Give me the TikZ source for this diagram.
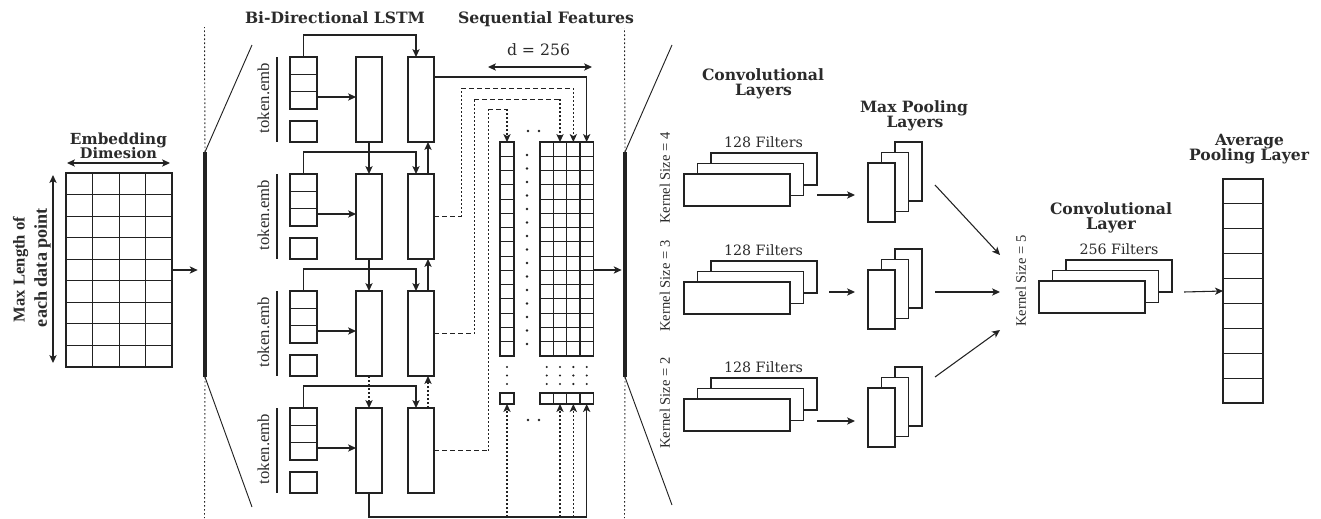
\documentclass[tikz,border=0pt]{standalone}
\usepackage{graphicx}
\usepackage{fontspec}
\setmainfont{DejaVu Serif}
\newfontfamily\tms{Liberation Serif}
\usetikzlibrary{arrows.meta,calc}
\definecolor{lc}{HTML}{222222}
\definecolor{tc}{HTML}{2b2b2b}
\newdimen\pxu \pxu=0.75pt
\newcommand\fw[2]{\resizebox{#1\pxu}{!}{#2}}
\newcommand\bx[5]{\node[blk,minimum width={(#4)*0.75pt},minimum height={(#5)*0.75pt}] (#1) at ({#2},{#3}) {};}
\begin{document}
\begin{tikzpicture}[x=0.75pt,y=-0.75pt,
  blk/.style={draw=lc,line width=0.9pt,fill=white,inner sep=0pt,outer sep=0pt,anchor=north west},
  gridl/.style={draw=lc,line width=0.7pt},
  tip/.tip={Stealth[length=6pt,width=5.5pt,inset=1.6pt]},
  arr/.style={draw=lc,line width=0.8pt,-tip},
  darr/.style={draw=lc,line width=0.8pt,tip-tip},
  dotl/.style={dash pattern=on 1.2pt off 1.8pt},
  dashl/.style={dash pattern=on 3.5pt off 2.5pt},
  thin/.style={draw=lc,line width=0.7pt},
  head/.style={font=\bfseries\fontsize{11}{12}\selectfont,text=tc,inner sep=0pt,anchor=base},
  lab/.style={font=\fontsize{10}{12}\selectfont,text=tc,inner sep=0pt,anchor=base},
  tlab/.style={font=\tms\fontsize{11.5}{12}\selectfont,text=tc,inner sep=0pt,rotate=90},
  klab/.style={font=\tms\fontsize{10.5}{12}\selectfont,text=tc,inner sep=0pt,rotate=90},
  mlab/.style={font=\tms\bfseries\fontsize{12}{14}\selectfont,text=tc,inner sep=0pt,rotate=90},
  bar/.style={fill=lc,inner sep=0pt,outer sep=0pt,anchor=north west,minimum width=3pt,minimum height=225*0.75pt},
  dot/.style={fill=lc}
]
\useasboundingbox (0,0) rectangle (1321,518);

% ---------- embedding ----------
\node[head] (hemb1) at (118.5,144) {\fw{97}{Embedding}};
\node[head] (hemb2) at (118.5,158) {\fw{77}{Dimesion}};
\node[mlab] (hmax1) at (20.5,269.5) {\fw{105}{Max Length of}};
\node[mlab] (hmax2) at (42.5,267.5) {\fw{119}{each data point}};
\bx{emb}{66}{173}{106}{194}
\foreach \i in {1,2,3} \draw[gridl] ($(emb.north west)+(26.5*\i,0)$) -- ($(emb.south west)+(26.5*\i,0)$);
\foreach \j in {1,...,8} \draw[gridl] ($(emb.north west)+(0,194/9*\j)$) -- ($(emb.north east)+(0,194/9*\j)$);
\coordinate (ea1) at (67,163); \coordinate (ea2) at (170,163);
\draw[darr] (ea1) -- (ea2);
\coordinate (ma1) at (53,175); \coordinate (ma2) at (53,363);
\draw[darr] (ma1) -- (ma2);

% ---------- bar 1 ----------
\node[bar] (bar1) at (203,152) {};
\draw[arr,shorten >=4pt] (emb.east) -- (emb.east -| bar1.west);
\coordinate (d1t) at (204.5,27); \coordinate (d1b) at (204.5,518);
\draw[thin,dotl] (bar1.north) -- (d1t);
\draw[thin,dotl] (bar1.south) -- (d1b);
\coordinate (g1t) at (252,45); \coordinate (g1b) at (252,507);
\draw[thin] (bar1.north) -- (g1t);
\draw[thin] (bar1.south) -- (g1b);

% ---------- LSTM ----------
\node[head] (hlstm) at (335,23) {\fw{180}{Bi-Directional LSTM}};
\foreach \r in {0,1,2,3} {
  \pgfmathsetmacro\t{57+117*\r}
  \node[tlab] (te\r) at ({263.5},{\t+41}) {\fw{70}{token.emb}};
  \draw[lc,line width=0.9pt] ({277},{\t}) -- ({277},{\t+85});
  \bx{tok\r}{290}{\t}{27}{52}
  \draw[gridl] ($(tok\r.north west)+(0,17.3)$) -- ($(tok\r.north east)+(0,17.3)$);
  \draw[gridl] ($(tok\r.north west)+(0,34.7)$) -- ($(tok\r.north east)+(0,34.7)$);
  \bx{sm\r}{290}{\t+64}{27}{21}
  \bx{f\r}{356}{\t}{26}{85}
  \bx{b\r}{408}{\t}{26}{85}
  \draw[arr] ($(tok\r.north east)+(0,40)$) -- ($(f\r.north west)+(0,40)$);
  \draw[arr] (tok\r.north) -- ++(0,-22) -| ($(b\r.north west)+(8,0)$);
}
\draw[arr] (f0.south) -- (f1.north);
\draw[arr] (f1.south) -- (f2.north);
\draw[arr,dotl] (f2.south) -- (f3.north);
\draw[arr] ($(b1.north east)+(-6,0)$) -- ($(b0.south east)+(-6,0)$);
\draw[arr] ($(b2.north east)+(-6,0)$) -- ($(b1.south east)+(-6,0)$);
\draw[arr,dotl] ($(b3.north east)+(-6,0)$) -- ($(b2.south east)+(-6,0)$);

% ---------- sequential features ----------
\node[head] (hseq) at (546,23) {\fw{176}{Sequential Features}};
\node[lab] (dlab) at (538.5,55) {\fw{63}{d = 256}};
\coordinate (da1) at (488,67); \coordinate (da2) at (592,67);
\draw[darr] (da1) -- (da2);

\bx{sc}{500}{142}{14}{214}
\foreach \j in {1,...,14} \draw[gridl] ($(sc.north west)+(0,214/15*\j)$) -- ($(sc.north east)+(0,214/15*\j)$);
\foreach \i in {1,...,4} {\bx{mc\i}{540+13.333*(\i-1)}{142}{13.333}{214}}
\foreach \j in {1,...,14} \draw[gridl] ($(mc1.north west)+(0,214/15*\j)$) -- ($(mc4.north east)+(0,214/15*\j)$);
\bx{ssb}{500}{393}{14}{11}
\foreach \i in {1,...,4} {\bx{msb\i}{540+13.333*(\i-1)}{393}{13.333}{11}}

\foreach \k in {0,...,14} \fill[dot] ({527},{155+13.5*\k}) circle (1.1pt);
\foreach \x in {528,539} {\fill[dot] (\x,131) circle (1pt); \fill[dot] (\x,420) circle (1pt);}
\foreach \x in {507,546.7,560,573.3,586.7} \foreach \y in {367,375.5,384} \fill[dot] ({\x},{\y}) circle (0.9pt);

% outputs of backward cells
\draw[arr] ($(b0.north east)+(0,20)$) -| (mc4.north);
\coordinate (k1) at (461,88);
\draw[thin,dashl] (b1.east) -- (b1.east -| k1);
\draw[thin,dotl] (b1.east -| k1) -- (k1);
\draw[thin,dashl] (k1) -- (k1 -| mc3.north);
\draw[arr,dotl] (k1 -| mc3.north) -- (mc3.north);
\coordinate (k2) at (474,99);
\draw[thin,dashl] (b2.east) -- (b2.east -| k2);
\draw[thin,dotl] (b2.east -| k2) -- (k2);
\draw[thin,dashl] (k2) -- (k2 -| mc2.north);
\draw[arr,dotl] (k2 -| mc2.north) -- (mc2.north);
\coordinate (k3) at (488,109);
\draw[thin,dashl] (b3.east) -- (b3.east -| k3);
\draw[thin,dotl] (b3.east -| k3) -- (k3);
\draw[thin,dashl] (k3) -- (k3 -| sc.north);
\draw[arr,dotl] (k3 -| sc.north) -- (sc.north);

% outputs of forward chain (bottom)
\coordinate (bt) at ($(f3.south)+(0,24)$);
\draw[arr] (f3.south) -- (bt) -| (msb4.south);
\draw[arr,dotl] (bt -| ssb.south) -- (ssb.south);
\draw[arr,dotl] (bt -| msb2.south) -- (msb2.south);
\draw[arr,dotl] (bt -| msb3.south) -- (msb3.south);

% ---------- bar 2 ----------
\node[bar] (bar2) at (623,152) {};
\coordinate (mo) at ($(mc4.north east)+(0,128)$);
\draw[arr,shorten >=1pt] (mo) -- (mo -| bar2.west);
\coordinate (d2t) at (624.5,28); \coordinate (d2b) at (624.5,518);
\draw[thin,dotl] (bar2.north) -- (d2t);
\draw[thin,dotl] (bar2.south) -- (d2b);
\coordinate (g2t) at (672,45); \coordinate (g2b) at (672,505);
\draw[thin] (bar2.north) -- (g2t);
\draw[thin] (bar2.south) -- (g2b);

% ---------- convolutional layers ----------
\node[head] (hconv1) at (763,80) {\fw{122}{Convolutional}};
\node[head] (hconv2) at (763.5,95) {\fw{57}{Layers}};
\foreach \i/\ft/\k in {1/174/4,2/282/3,3/399/2} {
  \bx{cb\i}{711}{\ft-21}{106}{32}
  \bx{cm\i}{697.5}{\ft-10.5}{106}{32}
  \bx{cf\i}{684}{\ft}{106}{32}
  \node[lab] (cfl\i) at ({763.5},{\ft-27}) {\fw{79}{128 Filters}};
  \node[klab] (ks\i) at ({665},{\ft+4}) {\fw{91}{Kernel Size = \k}};
}

% ---------- max pooling ----------
\node[head] (hpool1) at (914,112) {\fw{108}{Max Pooling}};
\node[head] (hpool2) at (915,127) {\fw{57}{Layers}};
\foreach \i/\pt in {1/163,2/270,3/388} {
  \bx{pb\i}{895}{\pt-21}{27}{59}
  \bx{pm\i}{881.5}{\pt-10.5}{27}{59}
  \bx{pf\i}{868}{\pt}{27}{59}
}
\draw[arr] ($(cb1.north east)+(0,42)$) -- ($(pf1.north west)+(-13,32)$);
\draw[arr] ($(cb2.north east)+(12,31)$) -- ($(pf2.north west)+(-13,22)$);
\draw[arr] ($(cb3.north east)+(0,43)$) -- ($(pf3.north west)+(-13,33)$);

\coordinate (kin) at (1000,292);
\draw[arr] ($(pb1.north east)+(13,43)$) -- ($(kin)+(0,-37)$);
\draw[arr] ($(pb2.north east)+(13,43)$) -- (kin);
\draw[arr] ($(pb3.north east)+(13,10)$) -- ($(kin)+(0,38)$);
\node[klab] (ks5) at (1021,281) {\fw{91}{Kernel Size = 5}};

% ---------- convolutional layer ----------
\node[head] (hcl1) at (1111,214) {\fw{122}{Convolutional}};
\node[head] (hcl2) at (1111,229) {\fw{50}{Layer}};
\bx{lb}{1066}{260}{106}{32}
\bx{lm}{1052.5}{270.5}{106}{32}
\bx{lf}{1039}{281}{106}{32}
\node[lab] (lfl) at (1119,254) {\fw{79}{256 Filters}};

% ---------- average pooling ----------
\node[head] (havg1) at (1249.5,145) {\fw{69}{Average}};
\node[head] (havg2) at (1249,160) {\fw{120}{Pooling Layer}};
\bx{avg}{1223}{179}{40}{224}
\foreach \j in {1,...,8} \draw[gridl] ($(avg.north west)+(0,224/9*\j)$) -- ($(avg.north east)+(0,224/9*\j)$);
\draw[arr] ($(lb.south east)+(12,0)$) -- (avg.west);
\end{tikzpicture}
\end{document}
